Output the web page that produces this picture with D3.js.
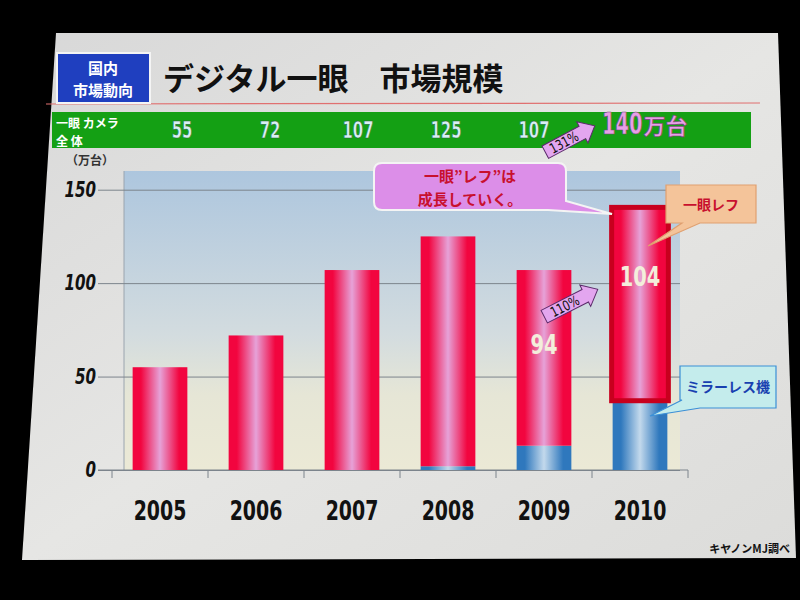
<!DOCTYPE html>
<html><head><meta charset="utf-8">
<script src="https://cdn.jsdelivr.net/npm/d3@7"></script>
<style>body{margin:0;background:#000;}svg{display:block;}</style>
</head><body>
<svg id="c" width="800" height="600"></svg>
<script>
// ---- data ----
const years = ["2005","2006","2007","2008","2009","2010"];
const mirrorless = [0, 0, 0, 2, 13, 36];
const slr = [55, 72, 107, 123, 94, 104];
const totals = ["55","72","107","125","107","140"];
const yTicks = [0, 50, 100, 150];
const slrLabels = [null, null, null, null, "94", "104"];

const svg = d3.select("#c");
const JP = "'Noto Sans CJK JP','Noto Sans',sans-serif";
const NUM = "'DejaVu Sans Condensed','Liberation Sans',sans-serif";
const defs = svg.append("defs");

function condense(sel, f){
  sel.each(function(){ const L = this.getComputedTextLength(); d3.select(this).attr("textLength", L*f).attr("lengthAdjust","spacingAndGlyphs"); });
}

function hGrad(id, edge, mid){
  const g = defs.append("linearGradient").attr("id", id).attr("x1","0").attr("x2","1").attr("y1","0").attr("y2","0");
  [[0,edge],[0.15,edge],[0.5,mid],[0.85,edge],[1,edge]].forEach(([o,c])=>g.append("stop").attr("offset",o).attr("stop-color",c));
}
hGrad("gRed", "#f2053f", "#e6a2d8");
hGrad("gBlue", "#2f78bd", "#c3d9ec");
const bg = defs.append("linearGradient").attr("id","gBg").attr("x1","0").attr("x2","0").attr("y1","0").attr("y2","1");
[[0,"#adc6de"],[0.55,"#d3dcdf"],[0.75,"#e6e6d6"],[1,"#ebe9d6"]].forEach(([o,c])=>bg.append("stop").attr("offset",o).attr("stop-color",c));
const sl = defs.append("linearGradient").attr("id","gSlide").attr("x1","0").attr("x2","1").attr("y1","0").attr("y2","1");
[[0,"#d8d8d8"],[0.5,"#e6e6e4"],[1,"#dcdcda"]].forEach(([o,c])=>sl.append("stop").attr("offset",o).attr("stop-color",c));

// slide
svg.append("polygon").attr("points","56,33 778,33 796,558 22,560").attr("fill","url(#gSlide)");

// header
svg.append("line").attr("x1",46).attr("x2",760).attr("y1",104).attr("y2",103).attr("stroke","#e07070").attr("stroke-width",1.2);
svg.append("rect").attr("x",57).attr("y",53).attr("width",93).attr("height",50).attr("fill","#1f3fbf").attr("stroke","#f4f4f4").attr("stroke-width",2);
svg.append("text").attr("x",103).attr("y",74).attr("text-anchor","middle").attr("fill","#fff").attr("font-family",JP).attr("font-weight","bold").attr("font-size",15).text("国内");
svg.append("text").attr("x",103).attr("y",96).attr("text-anchor","middle").attr("fill","#fff").attr("font-family",JP).attr("font-weight","bold").attr("font-size",15).text("市場動向");
svg.append("text").attr("x",163).attr("y",90).attr("fill","#111").attr("font-family",JP).attr("font-weight","bold").attr("font-size",31).text("デジタル一眼　市場規模");

// green row
svg.append("rect").attr("x",52).attr("y",112).attr("width",699).attr("height",36).attr("fill","#14a014");
svg.append("text").attr("x",56).attr("y",128).attr("fill","#fff").attr("font-family",JP).attr("font-weight","bold").attr("font-size",12).text("一眼 カメラ");
svg.append("text").attr("x",56).attr("y",146).attr("fill","#fff").attr("font-family",JP).attr("font-weight","bold").attr("font-size",12).text("全 体");

const xTop = d3.scaleBand().domain(years).range([138, 666]);
svg.append("g").selectAll("text").data(years.slice(0,5)).join("text")
  .attr("x", d=>xTop(d)+xTop.bandwidth()/2).attr("y",138).attr("text-anchor","middle")
  .attr("fill","#d8f0f4").attr("stroke","#2a5a3a").attr("stroke-width",0.5)
  .attr("font-family",NUM).attr("font-weight","bold").attr("font-size",23)
  .text((d,i)=>totals[i]).call(condense, 0.72);
const lx = xTop("2010")+xTop.bandwidth()/2 - 20;
const t140 = svg.append("text").attr("transform",`translate(${lx},134) scale(0.72,1)`).attr("text-anchor","start")
  .attr("fill","#e7a0e6").attr("stroke","#7a3a7a").attr("stroke-width",0.6)
  .attr("font-family",NUM).attr("font-weight","bold").attr("font-size",30)
  .text(totals[5]);
const w140 = t140.node().getComputedTextLength()*0.72;
svg.append("text").attr("x",lx+w140+1).attr("y",134).attr("text-anchor","start")
  .attr("fill","#e7a0e6").attr("stroke","#7a3a7a").attr("stroke-width",0.6)
  .attr("font-family",JP).attr("font-weight","bold").attr("font-size",22).text("万台");

function arrow(cx, cy, angle, label, w){
  const g = svg.append("g").attr("transform",`translate(${cx},${cy}) rotate(${angle})`);
  const h=14, hw=24;
  g.append("polygon").attr("points",`${-w/2},${-h/2} ${w/2-14},${-h/2} ${w/2-14},${-hw/2} ${w/2},0 ${w/2-14},${hw/2} ${w/2-14},${h/2} ${-w/2},${h/2}`)
    .attr("fill","#e3a6ef").attr("stroke","#5a2a6a").attr("stroke-width",1);
  g.append("text").attr("x",-7).attr("y",5).attr("text-anchor","middle").attr("font-family",NUM).attr("font-size",14).attr("fill","#111").text(label).call(condense,0.85);
}
arrow(570,139,-28,"131%",56);

// chart
const left = 112, right = 688, y0 = 470, yTop = 171;
const x = d3.scaleBand().domain(years).range([left, right]).paddingInner(0.43).paddingOuter(0.215);
const y = d3.scaleLinear().domain([0,160]).range([y0, yTop]);

svg.append("rect").attr("x",left+12).attr("y",y(160)).attr("width",right-left-20).attr("height",y0-y(160)).attr("fill","url(#gBg)");
svg.append("line").attr("x1",left+12).attr("x2",left+12).attr("y1",y(160)).attr("y2",y0).attr("stroke","#9aa4ae");

const gy = svg.append("g").attr("transform",`translate(${left},0)`).call(d3.axisLeft(y).tickValues(yTicks).tickSize(-(right-left-8)).tickPadding(6));
gy.select(".domain").remove();
gy.selectAll(".tick line").attr("stroke","#7c848c").attr("stroke-width",1).attr("x1",-14);
gy.selectAll(".tick text").attr("font-family",NUM).attr("font-style","italic").attr("font-weight","bold").attr("font-size",21).attr("fill","#111").attr("x",-16).call(condense,0.8);

svg.append("text").attr("x",66).attr("y",165).attr("font-family",JP).attr("font-size",12).attr("font-weight","bold").attr("fill","#333").text("（万台）");

// x axis
const gx = svg.append("g").attr("transform",`translate(0,${y0})`).call(d3.axisBottom(x).tickSize(0).tickPadding(31));
gx.select(".domain").attr("stroke","#7c848c").attr("d",`M${left-14},0H${right}`);
gx.selectAll(".tick text").attr("font-family",NUM).attr("font-weight","bold").attr("font-size",27).attr("fill","#111").call(condense,0.78);
const step = x.step();
svg.append("g").selectAll("line").data(years).join("line")
  .attr("x1",d=>x(d)-x.paddingInner()*step/2).attr("x2",d=>x(d)-x.paddingInner()*step/2)
  .attr("y1",y0).attr("y2",y0+8).attr("stroke","#7c848c");
svg.append("line").attr("x1",right).attr("x2",right).attr("y1",y0).attr("y2",y0+8).attr("stroke","#7c848c");

// stacked bars
const rows = years.map((d,i)=>({year:d, mirrorless:mirrorless[i], slr:slr[i]}));
const stack = d3.stack().keys(["mirrorless","slr"])(rows);
const fills = {mirrorless:"url(#gBlue)", slr:"url(#gRed)"};
svg.append("g").selectAll("g").data(stack).join("g")
  .attr("fill", s=>fills[s.key])
  .selectAll("rect").data(s=>s.filter(p=>p[1]>p[0]).map(p=>({p, key:s.key}))).join("rect")
  .attr("x", d=>x(d.p.data.year)).attr("width", x.bandwidth())
  .attr("y", d=>y(d.p[1])).attr("height", d=>y(d.p[0])-y(d.p[1]));

// highlight 2010 slr
const s2010 = stack[1][5];
svg.append("rect").attr("x",x("2010")-1).attr("width",x.bandwidth()+2).attr("y",y(s2010[1])-1).attr("height",y(s2010[0])-y(s2010[1])-1)
  .attr("fill","none").attr("stroke","#c8001e").attr("stroke-width",5);

// labels inside bars
svg.append("g").selectAll("text").data(years.filter((d,i)=>slrLabels[i])).join("text")
  .attr("x", d=>x(d)+x.bandwidth()/2)
  .attr("y", (d)=>{const i=years.indexOf(d); return d==="2010" ? y(mirrorless[i]+slr[i])+78 : y(mirrorless[i]+slr[i]*0.52);})
  .attr("text-anchor","middle").attr("fill","#f3eedb").attr("font-family",NUM).attr("font-weight","bold").attr("font-size",27)
  .text(d=>slrLabels[years.indexOf(d)]).call(condense,0.8);

arrow(571,303,-27,"110%",60);

// callouts
function callout(pts, fill, stroke){
  svg.append("path").attr("d", d3.line()(pts)+"Z").attr("fill",fill).attr("stroke",stroke).attr("stroke-width",1.2);
}
svg.append("path").attr("d","M382,163 H558 Q566,163 566,171 V201 L612,214 L548,210 H382 Q374,210 374,202 V171 Q374,163 382,163 Z")
  .attr("fill","#dc8ee8").attr("stroke","#f4f4f4").attr("stroke-width",2);
svg.append("text").attr("x",470).attr("y",182).attr("text-anchor","middle").attr("fill","#c8102e").attr("font-family",JP).attr("font-weight","bold").attr("font-size",15).text("一眼”レフ”は");
svg.append("text").attr("x",470).attr("y",205).attr("text-anchor","middle").attr("fill","#c8102e").attr("font-family",JP).attr("font-weight","bold").attr("font-size",15).text("成長していく。");
callout([[666,185],[756,185],[756,223],[700,223],[648,246],[682,223],[666,223]],"#f4c49a","#e0a070");
svg.append("text").attr("x",711).attr("y",210).attr("text-anchor","middle").attr("fill","#c8102e").attr("font-family",JP).attr("font-weight","bold").attr("font-size",14).text("一眼レフ");
callout([[680,366],[776,366],[776,408],[700,408],[650,416],[682,400],[680,400]],"#c4ecec","#3b8fd6");
svg.append("text").attr("x",728).attr("y",392).attr("text-anchor","middle").attr("fill","#1840b0").attr("font-family",JP).attr("font-weight","bold").attr("font-size",14).text("ミラーレス機");

// source
svg.append("text").attr("x",790).attr("y",553).attr("text-anchor","end").attr("fill","#111").attr("font-family",JP).attr("font-weight","bold").attr("font-size",11).text("キヤノンMJ調べ");
</script>
</body></html>
